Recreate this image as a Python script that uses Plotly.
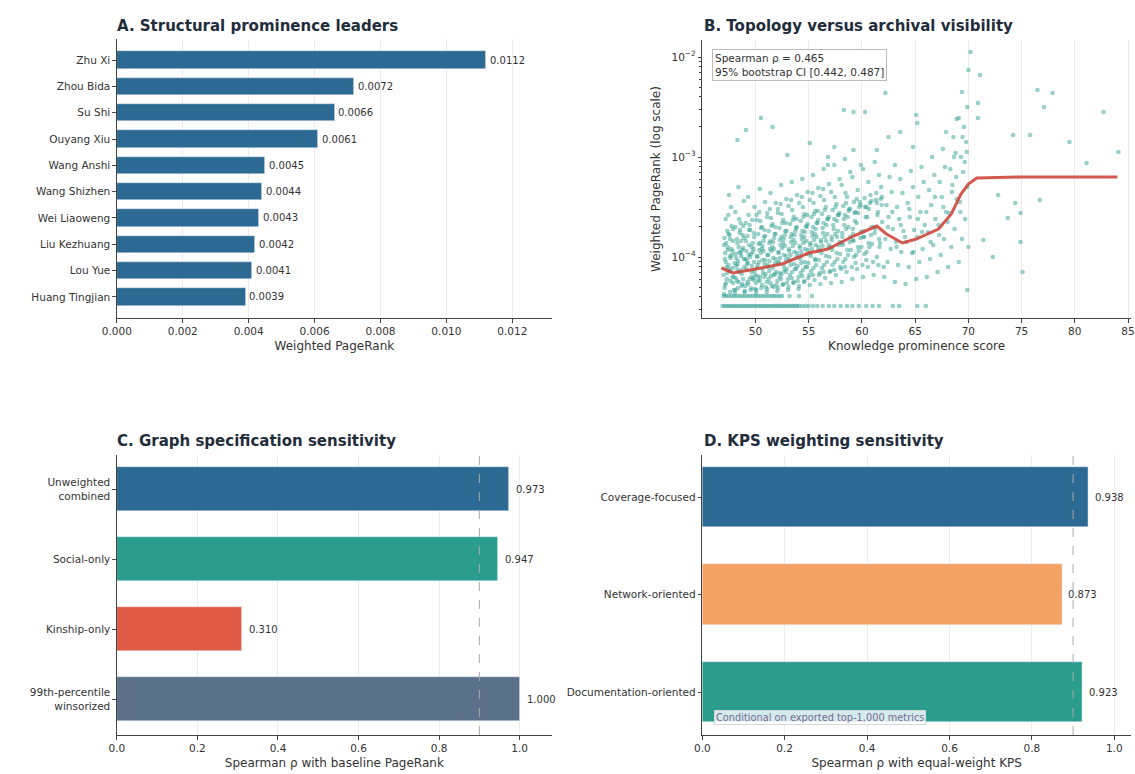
import plotly.graph_objects as go

W, H = 1135, 774

# ---------------- data ----------------
leaders = ["Zhu Xi", "Zhou Bida", "Su Shi", "Ouyang Xiu", "Wang Anshi",
           "Wang Shizhen", "Wei Liaoweng", "Liu Kezhuang", "Lou Yue", "Huang Tingjian"]
leader_pagerank = [0.0112, 0.0072, 0.0066, 0.0061, 0.0045, 0.0044, 0.0043, 0.0042, 0.0041, 0.0039]

graph_specs = ["Unweighted<br>combined", "Social-only", "Kinship-only", "99th-percentile<br>winsorized"]
graph_rho = [0.973, 0.947, 0.310, 1.000]

kps_specs = ["Coverage-focused", "Network-oriented", "Documentation-oriented"]
kps_rho = [0.938, 0.873, 0.923]

# Panel B: points (KPS, log10 weighted PageRank)
floor_low_log = -4.49
floor_low_x = [46.9, 47.1, 47.3, 47.5, 47.7, 47.9, 48.1, 48.3, 48.5, 48.7, 48.9, 49.1, 49.3, 49.5,
               49.7, 49.9, 50.1, 50.3, 50.5, 50.7, 50.9, 51.1, 51.3, 51.5, 51.7, 51.9, 52.1, 52.3,
               52.5, 52.7, 52.9, 53.1, 53.3, 53.5, 53.7, 53.9, 54.1, 54.4, 54.7, 55.0, 55.4, 55.8,
               56.3, 56.9, 57.4, 58.0, 58.6, 59.1, 59.7, 60.4, 61.0, 61.6, 62.9, 63.5, 65.2, 66.0]
floor_mid_log = -4.39
floor_mid_x = [47.0, 47.25, 47.5, 47.75, 48.0, 48.25, 48.5, 48.75, 49.0, 49.25, 49.5, 49.75, 50.0,
               50.25, 50.5, 50.75, 51.0, 51.25, 51.5, 51.75, 52.0, 52.25, 52.5, 53.2, 54.1, 55.3]

cloud = [
    (47.1, -4.31), (47.3, -4.22), (47.5, -4.12), (47.2, -4.05), (47.8, -3.98), (47.4, -3.90), (47.6, -3.82),
    (47.9, -3.72), (47.2, -3.62), (47.7, -3.50), (47.5, -3.38), (47.0, -4.18), (47.9, -4.26), (47.6, -4.35),
    (48.1, -4.33), (48.4, -4.25), (48.7, -4.17), (48.2, -4.09), (48.9, -4.02), (48.5, -3.95), (48.3, -3.86),
    (48.8, -3.78), (48.6, -3.66), (48.1, -3.55), (48.9, -3.44), (48.4, -3.30), (48.7, -4.29), (48.3, -4.13),
    (49.0, -4.34), (49.3, -4.27), (49.6, -4.20), (49.9, -4.14), (49.2, -4.07), (49.5, -4.00), (49.8, -3.92),
    (49.1, -3.84), (49.4, -3.73), (49.7, -3.63), (49.9, -3.50), (49.3, -3.40), (49.6, -4.31), (49.8, -4.23),
    (50.1, -4.33), (50.4, -4.24), (50.7, -4.16), (50.2, -4.08), (50.9, -4.03), (50.5, -3.96), (50.3, -3.87),
    (50.8, -3.80), (50.6, -3.70), (50.1, -3.58), (50.9, -3.45), (50.4, -3.32), (50.6, -4.28), (50.2, -4.19),
    (51.1, -4.32), (51.4, -4.26), (51.7, -4.18), (51.2, -4.10), (51.9, -4.02), (51.5, -3.94), (51.3, -3.86),
    (51.8, -3.77), (51.6, -3.67), (51.1, -3.56), (51.9, -3.46), (51.4, -3.36), (51.7, -4.30), (51.3, -4.14),
    (52.1, -4.31), (52.4, -4.22), (52.7, -4.13), (52.2, -4.06), (52.9, -3.99), (52.5, -3.91), (52.3, -3.83),
    (52.8, -3.74), (52.6, -3.63), (52.1, -3.52), (52.9, -3.42), (52.4, -3.28), (52.6, -4.27), (52.3, -4.16),
    (53.1, -4.30), (53.4, -4.21), (53.7, -4.12), (53.2, -4.04), (53.9, -3.96), (53.5, -3.89), (53.3, -3.80),
    (53.8, -3.71), (53.6, -3.60), (53.1, -3.49), (53.9, -3.38), (53.4, -3.25), (53.6, -4.25), (53.3, -4.08),
    (54.1, -4.29), (54.4, -4.19), (54.7, -4.10), (54.2, -4.02), (54.9, -3.93), (54.5, -3.86), (54.3, -3.78),
    (54.8, -3.69), (54.6, -3.57), (54.1, -3.46), (54.9, -3.35), (54.4, -3.22), (54.6, -4.24), (54.3, -4.06),
    (55.1, -4.28), (55.4, -4.18), (55.7, -4.08), (55.2, -3.99), (55.9, -3.90), (55.5, -3.83), (55.3, -3.75),
    (55.8, -3.66), (55.6, -3.54), (55.1, -3.43), (55.9, -3.31), (55.4, -3.18), (55.6, -4.03),
    (56.1, -4.27), (56.4, -4.15), (56.7, -4.05), (56.2, -3.96), (56.9, -3.88), (56.5, -3.80), (56.3, -3.71),
    (56.8, -3.62), (56.6, -3.50), (56.1, -3.39), (56.9, -3.27), (56.4, -3.12), (56.8, -3.00),
    (57.1, -4.26), (57.4, -4.13), (57.7, -4.02), (57.2, -3.93), (57.9, -3.85), (57.5, -3.77), (57.3, -3.68),
    (57.8, -3.58), (57.6, -3.47), (57.1, -3.35), (57.9, -3.22), (57.4, -3.08),
    (58.1, -4.25), (58.4, -4.10), (58.7, -3.98), (58.2, -3.88), (58.9, -3.80), (58.5, -3.72), (58.3, -3.62),
    (58.8, -3.52), (58.6, -3.40), (58.1, -3.28), (58.9, -3.15), (58.4, -3.02),
    (59.1, -4.22), (59.4, -4.06), (59.7, -3.94), (59.2, -3.84), (59.9, -3.75), (59.5, -3.66), (59.3, -3.56),
    (59.8, -3.45), (59.6, -3.33), (59.1, -3.20), (59.9, -3.08),
    (60.1, -4.20), (60.4, -4.03), (60.7, -3.90), (60.2, -3.80), (60.9, -3.70), (60.5, -3.60), (60.3, -3.50),
    (60.8, -3.38), (60.6, -3.25), (60.1, -3.12),
    (61.1, -4.18), (61.4, -4.00), (61.7, -3.86), (61.2, -3.76), (61.9, -3.65), (61.5, -3.55), (61.3, -3.43),
    (61.8, -3.30), (61.6, -3.18), (61.2, -3.05),
    (62.1, -4.20), (62.4, -4.05), (62.7, -3.92), (62.2, -3.82), (62.9, -3.72), (62.5, -3.60), (62.3, -3.48),
    (62.8, -3.35), (62.6, -3.20),
    (63.1, -4.25), (63.4, -4.08), (63.7, -3.95), (63.2, -3.85), (63.9, -3.74), (63.5, -3.62), (63.3, -3.50),
    (63.8, -3.36), (63.6, -3.22), (63.1, -3.08),
    (64.1, -4.27), (64.4, -4.10), (64.7, -3.96), (64.2, -3.85), (64.9, -3.73), (64.5, -3.60), (64.3, -3.46),
    (64.8, -3.30), (64.6, -3.14),
    (65.1, -4.22), (65.4, -4.05), (65.7, -3.92), (65.2, -3.80), (65.9, -3.68), (65.5, -3.55), (65.3, -3.40),
    (65.8, -3.25), (65.6, -3.10),
    (66.1, -4.20), (66.4, -4.02), (66.7, -3.88), (66.2, -3.75), (66.9, -3.62), (66.5, -3.48), (66.3, -3.33),
    (66.8, -3.18), (66.6, -3.00),
    (67.1, -4.15), (67.4, -3.98), (67.7, -3.82), (67.2, -3.68), (67.9, -3.55), (67.5, -3.40), (67.3, -3.25),
    (67.8, -3.10), (67.6, -2.92), (67.9, -2.75),
    (68.1, -4.10), (68.4, -3.90), (68.7, -3.72), (68.2, -3.56), (68.9, -3.42), (68.5, -3.28), (68.3, -3.12),
    (68.8, -2.96), (68.6, -2.80), (68.9, -2.62),
    (69.1, -4.05), (69.4, -3.82), (69.7, -3.62), (69.2, -3.45), (69.9, -3.30), (69.5, -3.15), (69.3, -3.00),
    (69.8, -2.85), (69.6, -2.70), (69.9, -2.50), (69.4, -2.35),
]

cloud_dense = [
    (47.05, -4.37), (47.15, -4.28), (47.35, -4.16), (47.45, -4.08), (47.65, -4.01), (47.85, -3.94), (47.25, -3.86),
    (47.55, -3.78), (47.75, -3.69), (47.95, -4.20), (47.15, -3.96), (47.45, -3.58), (47.65, -4.24), (47.35, -3.74),
    (47.85, -4.11), (47.05, -3.88),
    (48.05, -4.36), (48.15, -4.21), (48.35, -4.04), (48.45, -4.15), (48.65, -3.99), (48.85, -3.91), (48.25, -3.82),
    (48.55, -3.73), (48.75, -4.27), (48.95, -4.10), (48.15, -3.97), (48.45, -3.62), (48.65, -3.84), (48.35, -4.31),
    (48.85, -3.69), (48.05, -4.06),
    (49.05, -4.29), (49.15, -4.12), (49.35, -3.98), (49.45, -4.22), (49.65, -3.90), (49.85, -4.05), (49.25, -3.79),
    (49.55, -4.33), (49.75, -3.86), (49.95, -4.18), (49.15, -3.94), (49.45, -3.68), (49.65, -4.09), (49.35, -3.58),
    (49.85, -3.76), (49.05, -4.02),
    (50.05, -4.26), (50.15, -4.11), (50.35, -3.93), (50.45, -4.20), (50.65, -3.89), (50.85, -4.07), (50.25, -3.77),
    (50.55, -4.31), (50.75, -3.84), (50.95, -4.17), (50.15, -3.99), (50.45, -3.64), (50.65, -4.03), (50.35, -3.55),
    (50.85, -3.73), (50.05, -4.36),
    (51.05, -4.25), (51.15, -4.08), (51.35, -3.92), (51.45, -4.19), (51.65, -3.85), (51.85, -4.06), (51.25, -3.74),
    (51.55, -4.29), (51.75, -3.81), (51.95, -4.15), (51.15, -3.98), (51.45, -3.61), (51.65, -4.01), (51.35, -3.52),
    (51.85, -3.70), (51.05, -4.35),
    (52.05, -4.24), (52.15, -4.05), (52.35, -3.88), (52.45, -4.17), (52.65, -3.82), (52.85, -4.03), (52.25, -3.71),
    (52.55, -4.28), (52.75, -3.78), (52.95, -4.12), (52.15, -3.95), (52.45, -3.57), (52.65, -3.98), (52.35, -3.47),
    (52.85, -3.66), (52.05, -4.34),
    (53.05, -4.22), (53.15, -4.02), (53.35, -3.85), (53.45, -4.15), (53.65, -3.78), (53.85, -4.00), (53.25, -3.67),
    (53.55, -4.26), (53.75, -3.74), (53.95, -4.09), (53.15, -3.92), (53.45, -3.53), (53.65, -3.95), (53.35, -3.43),
    (53.85, -3.62), (53.05, -4.33),
    (54.05, -4.20), (54.15, -3.99), (54.35, -3.82), (54.45, -4.13), (54.65, -3.75), (54.85, -3.97), (54.25, -3.64),
    (54.55, -4.25), (54.75, -3.70), (54.95, -4.06), (54.15, -3.89), (54.45, -3.50), (54.65, -3.92), (54.35, -3.40),
    (54.85, -3.58), (54.05, -4.32),
    (55.05, -4.18), (55.15, -3.96), (55.35, -3.79), (55.45, -4.11), (55.65, -3.72), (55.85, -3.94), (55.25, -3.60),
    (55.55, -4.23), (55.75, -3.66), (55.95, -4.03), (55.15, -3.86), (55.45, -3.46), (55.65, -3.88), (55.35, -3.36),
    (55.85, -3.54),
    (56.05, -4.16), (56.15, -3.93), (56.35, -3.76), (56.45, -4.08), (56.65, -3.68), (56.85, -3.91), (56.25, -3.57),
    (56.55, -4.21), (56.75, -3.62), (56.95, -4.00), (56.15, -3.83), (56.45, -3.43), (56.65, -3.84), (56.35, -3.32),
    (57.05, -4.14), (57.15, -3.90), (57.35, -3.72), (57.45, -4.05), (57.65, -3.64), (57.85, -3.88), (57.25, -3.53),
    (57.55, -4.18), (57.75, -3.58), (57.95, -3.97), (57.15, -3.80), (57.45, -3.40), (57.65, -3.80),
    (58.05, -4.12), (58.15, -3.86), (58.35, -3.68), (58.45, -4.02), (58.65, -3.60), (58.85, -3.85), (58.25, -3.49),
    (58.55, -4.15), (58.75, -3.54), (58.95, -3.93), (58.15, -3.76), (58.45, -3.36),
    (59.05, -4.10), (59.15, -3.83), (59.35, -3.64), (59.45, -3.98), (59.65, -3.56), (59.85, -3.81), (59.25, -3.45),
    (59.55, -4.12), (59.75, -3.50), (59.95, -3.90), (59.15, -3.72),
    (60.05, -4.08), (60.15, -3.80), (60.35, -3.60), (60.45, -3.95), (60.65, -3.52), (60.85, -3.78), (60.25, -3.41),
    (60.55, -4.10), (60.75, -3.46), (60.95, -3.87),
    (61.05, -4.05), (61.25, -3.72), (61.45, -3.58), (61.65, -3.90), (61.85, -3.48), (61.35, -3.36), (61.55, -4.08),
    (61.75, -3.42),
    (62.05, -4.10), (62.45, -3.70), (62.85, -3.55), (63.25, -3.90), (63.65, -3.68), (64.05, -3.80), (64.45, -3.52),
    (64.85, -3.95), (65.25, -3.62), (65.65, -3.75), (66.05, -3.55), (66.45, -3.85), (66.85, -3.40), (67.25, -3.78),
    (67.65, -3.50), (68.05, -3.65), (68.45, -3.35), (68.85, -3.20), (69.25, -3.55), (69.65, -3.05), (69.85, -2.95),
    (69.45, -2.80), (68.65, -3.00),
]

cloud_core = [
    (47.12, -4.02), (47.38, -3.93), (47.62, -4.14), (47.88, -3.84), (47.22, -4.26), (47.48, -3.77), (47.72, -3.92),
    (47.98, -4.33), (47.28, -4.10), (47.58, -3.99), (47.82, -4.20), (47.08, -3.81),
    (48.18, -4.01), (48.42, -3.90), (48.66, -4.13), (48.92, -3.81), (48.26, -4.24), (48.52, -3.76), (48.76, -3.93),
    (48.96, -4.35), (48.32, -4.07), (48.60, -3.96), (48.84, -4.22), (48.10, -3.70),
    (49.16, -4.03), (49.40, -3.88), (49.62, -4.15), (49.88, -3.80), (49.24, -4.25), (49.50, -3.73), (49.74, -3.95),
    (49.96, -4.32), (49.30, -4.06), (49.58, -3.97), (49.82, -4.21), (49.08, -3.66),
    (50.18, -4.00), (50.42, -3.86), (50.66, -4.12), (50.92, -3.79), (50.26, -4.23), (50.52, -3.71), (50.76, -3.94),
    (50.96, -4.30), (50.32, -4.05), (50.60, -3.92), (50.84, -4.20), (50.10, -3.63),
    (51.16, -3.98), (51.40, -3.84), (51.62, -4.11), (51.88, -3.77), (51.24, -4.22), (51.50, -3.69), (51.74, -3.92),
    (51.96, -4.28), (51.30, -4.04), (51.58, -3.90), (51.82, -4.17), (51.08, -3.60),
    (52.18, -3.96), (52.42, -3.80), (52.66, -4.09), (52.92, -3.74), (52.26, -4.20), (52.52, -3.66), (52.76, -3.89),
    (52.96, -4.26), (52.30, -4.01), (52.60, -3.86), (52.84, -4.15), (52.10, -3.56),
    (53.16, -3.94), (53.40, -3.77), (53.62, -4.07), (53.88, -3.70), (53.24, -4.18), (53.50, -3.63), (53.74, -3.86),
    (53.96, -4.24), (53.30, -3.98), (53.58, -3.83), (53.82, -4.12),
    (54.16, -3.91), (54.40, -3.74), (54.62, -4.05), (54.88, -3.67), (54.24, -4.16), (54.50, -3.60), (54.74, -3.84),
    (54.96, -4.21), (54.30, -3.95), (54.58, -3.80), (54.82, -4.10),
    (55.16, -3.88), (55.40, -3.70), (55.62, -4.02), (55.88, -3.63), (55.24, -4.14), (55.50, -3.57), (55.74, -3.80),
    (55.96, -4.18), (55.30, -3.92), (55.58, -3.77),
    (56.16, -3.85), (56.40, -3.66), (56.62, -3.99), (56.88, -3.60), (56.24, -4.11), (56.50, -3.53), (56.74, -3.77),
    (56.96, -4.15), (56.30, -3.89),
    (57.16, -3.83), (57.40, -3.62), (57.62, -3.96), (57.88, -3.56), (57.24, -4.08), (57.50, -3.50), (57.74, -3.74),
    (57.96, -4.10),
    (58.16, -3.80), (58.40, -3.58), (58.62, -3.93), (58.88, -3.52), (58.24, -4.05), (58.50, -3.46), (58.74, -3.70),
    (59.16, -3.77), (59.40, -3.55), (59.62, -3.90), (59.88, -3.48), (59.24, -4.00), (59.50, -3.42),
    (60.16, -3.74), (60.40, -3.50), (60.62, -3.86), (60.88, -3.44), (60.24, -3.97),
    (61.16, -3.70), (61.40, -3.46), (61.62, -3.82), (61.88, -3.40),
]

cloud_sparse = [
    (62.2, -2.36), (58.3, -2.53), (59.2, -2.55), (60.3, -2.55), (49.1, -2.73), (51.6, -2.70), (50.5, -2.61),
    (55.1, -2.86), (57.4, -2.90), (62.5, -2.80), (63.6, -2.75), (48.3, -2.83), (53.0, -2.98), (59.2, -2.93),
    (61.4, -2.93), (56.8, -3.08), (65.1, -2.58), (65.2, -2.66), (64.8, -2.90), (69.1, -2.61), (70.9, -2.61),
    (70.9, -2.46), (70.2, -1.95), (71.1, -2.18), (70.0, -2.13), (76.5, -2.33), (77.9, -2.36), (77.1, -2.50),
    (82.7, -2.55), (74.2, -2.78), (75.8, -2.78), (79.5, -2.85), (84.1, -2.95), (81.1, -3.06), (72.8, -3.38),
    (74.4, -3.46), (76.7, -3.43), (73.7, -3.61), (74.9, -3.56), (71.4, -3.83), (72.3, -4.00), (74.9, -3.85),
    (75.1, -4.15), (70.0, -3.90), (69.9, -4.33),
]

trend_x = [46.8, 47.9, 50.0, 52.5, 55.0, 56.8, 59.2, 61.4, 62.3, 63.8, 65.1, 67.2, 68.4, 69.3, 70.0, 70.8, 75.0, 84.0]
trend_log = [-4.11, -4.16, -4.12, -4.07, -3.96, -3.92, -3.79, -3.69, -3.77, -3.86, -3.82, -3.72, -3.57, -3.37, -3.27, -3.21, -3.20, -3.20]

rho_text = "Spearman ρ = 0.465<br>95% bootstrap CI [0.442, 0.487]"
note_text = "Conditional on exported top-1,000 metrics"

# ---------------- styling ----------------
FONT = "DejaVu Sans"
BLUE = "#2c6a93"
TEAL = "#2a9d8f"
RED = "#e05a45"
SLATE = "#5a7189"
ORANGE = "#f4a261"
TITLE_C = "#1f2d3d"
TXT = "#333333"
TICK_FS = 10.5
LAB_FS = 12
VAL_FS = 10


def px_x(p):
    return p / W


def px_y(p):
    return 1 - p / H


fig = go.Figure()

# Panel A
fig.add_trace(go.Bar(x=leader_pagerank, y=leaders, orientation="h", marker_color=BLUE,
                     width=0.66, xaxis="x", yaxis="y", showlegend=False))
for name, v in zip(leaders, leader_pagerank):
    fig.add_annotation(x=v, y=name, xref="x", yref="y", text=f"{v:.4f}", showarrow=False,
                       xanchor="left", xshift=2, font=dict(size=VAL_FS, color=TXT, family=FONT))

# Panel B
all_pts = cloud + cloud_dense + cloud_core + cloud_sparse
sx = [p[0] for p in all_pts] + floor_low_x + floor_mid_x
sy = ([10 ** p[1] for p in all_pts] + [10 ** floor_low_log] * len(floor_low_x)
      + [10 ** floor_mid_log] * len(floor_mid_x))
fig.add_trace(go.Scatter(x=sx, y=sy, mode="markers", xaxis="x2", yaxis="y2", showlegend=False,
                         marker=dict(size=4.6, color=TEAL, opacity=0.48, line=dict(width=0))))
fig.add_trace(go.Scatter(x=trend_x, y=[10 ** v for v in trend_log], mode="lines", xaxis="x2", yaxis="y2",
                         showlegend=False, line=dict(color="#d0483d", width=3), opacity=0.9))
fig.add_annotation(x=px_x(709), y=px_y(49), xref="paper", yref="paper", text=rho_text, showarrow=False,
                   xanchor="left", yanchor="top", align="left", bgcolor="white", bordercolor="#bbbbbb",
                   borderwidth=1, borderpad=2, font=dict(size=10.5, color=TXT, family=FONT))

# Panel C
fig.add_trace(go.Bar(x=graph_rho, y=graph_specs, orientation="h", marker_color=[BLUE, TEAL, RED, SLATE],
                     width=0.64, xaxis="x3", yaxis="y3", showlegend=False))
for name, v in zip(graph_specs, graph_rho):
    fig.add_annotation(x=v, y=name, xref="x3", yref="y3", text=f"{v:.3f}", showarrow=False,
                       xanchor="left", xshift=5, font=dict(size=VAL_FS, color=TXT, family=FONT))

# Panel D
fig.add_trace(go.Bar(x=kps_rho, y=kps_specs, orientation="h", marker_color=[BLUE, ORANGE, TEAL],
                     width=0.62, xaxis="x4", yaxis="y4", showlegend=False))
for name, v in zip(kps_specs, kps_rho):
    fig.add_annotation(x=v, y=name, xref="x4", yref="y4", text=f"{v:.3f}", showarrow=False,
                       xanchor="left", xshift=4, font=dict(size=VAL_FS, color=TXT, family=FONT))
fig.add_annotation(x=px_x(711), y=px_y(717), xref="paper", yref="paper", text=note_text, showarrow=False,
                   xanchor="left", yanchor="middle", bgcolor="rgba(255,255,255,0.8)", bordercolor="#d8d8d8",
                   borderwidth=1, borderpad=1, font=dict(size=9.8, color="#7a6a9a", family=FONT))

# reference lines at 0.9
for xr, yr in (("x3", "y3"), ("x4", "y4")):
    fig.add_shape(type="line", xref=xr, yref=f"{yr} domain", x0=0.9, x1=0.9, y0=0, y1=1,
                  line=dict(color="#aaaaaa", width=1, dash="dash"), layer="above")

# titles
titles = [("A. Structural prominence leaders", 103, 26), ("B. Topology versus archival visibility", 700, 26),
          ("C. Graph specification sensitivity", 103, 441), ("D. KPS weighting sensitivity", 700, 441)]
for t, xp, yp in titles:
    fig.add_annotation(x=px_x(xp), y=px_y(yp), xref="paper", yref="paper", text=f"<b>{t}</b>", showarrow=False,
                       xanchor="left", yanchor="middle", xshift=-1, font=dict(size=15, color=TITLE_C, family=FONT))

axis_common = dict(showline=True, linecolor="#444444", linewidth=1, ticks="outside", ticklen=3.5,
                   tickcolor="#444444", tickfont=dict(size=TICK_FS, color=TXT, family=FONT), zeroline=False)
xgrid = dict(showgrid=True, gridcolor="#ececec", gridwidth=1)

top_dom = [px_y(318), px_y(39)]
bot_dom = [px_y(735), px_y(455)]

minor_vals = [m * 10 ** e for e in (-5, -4, -3) for m in range(2, 10)]

fig.update_layout(
    width=W, height=H, margin=dict(l=0, r=0, t=0, b=0), plot_bgcolor="white", paper_bgcolor="white",
    font=dict(family=FONT, color=TXT), bargap=0,
    xaxis=dict(domain=[px_x(103.6), px_x(546)], range=[0, 0.0132],
               tickvals=[0, 0.002, 0.004, 0.006, 0.008, 0.010, 0.012], tickformat=".3f",
               title=dict(text="Weighted PageRank", font=dict(size=LAB_FS), standoff=5),
               anchor="y", **axis_common, **xgrid),
    yaxis=dict(domain=top_dom, range=[9.8, -0.8], type="category", categoryarray=leaders, anchor="x",
               showgrid=False, **axis_common),
    xaxis2=dict(domain=[px_x(699), 1.0], range=[45.0, 85.28], tickvals=[50, 55, 60, 65, 70, 75, 80, 85],
                ticklabeloverflow="allow",
                title=dict(text="Knowledge prominence score", font=dict(size=LAB_FS), standoff=5),
                anchor="y2", **axis_common, **xgrid),
    yaxis2=dict(domain=[px_y(318), px_y(40)], type="log", range=[-4.61, -1.83], tickvals=[1e-4, 1e-3, 1e-2],
                ticktext=["10<sup>−4</sup>", "10<sup>−3</sup>", "10<sup>−2</sup>"],
                minor=dict(tickmode="array", tickvals=minor_vals, ticks="outside", ticklen=2, tickcolor="#444444"),
                title=dict(text="Weighted PageRank (log scale)", font=dict(size=LAB_FS), standoff=8),
                anchor="x2", showgrid=False, **axis_common),
    xaxis3=dict(domain=[px_x(103.6), px_x(546)], range=[0, 1.08], tickvals=[0, 0.2, 0.4, 0.6, 0.8, 1.0],
                tickformat=".1f", title=dict(text="Spearman ρ with baseline PageRank", font=dict(size=LAB_FS), standoff=5),
                anchor="y3", **axis_common, **xgrid),
    yaxis3=dict(domain=bot_dom, range=[3.514, -0.486], type="category", categoryarray=graph_specs, anchor="x3",
                showgrid=False, **axis_common),
    xaxis4=dict(domain=[px_x(699), 1.0], range=[0, 1.0406], tickvals=[0, 0.2, 0.4, 0.6, 0.8, 1.0],
                tickformat=".1f", title=dict(text="Spearman ρ with equal-weight KPS", font=dict(size=LAB_FS), standoff=5),
                anchor="y4", **axis_common, **xgrid),
    yaxis4=dict(domain=bot_dom, range=[2.441, -0.431], type="category", categoryarray=kps_specs, anchor="x4",
                showgrid=False, **axis_common),
)

fig.write_html("out.html", config={"displayModeBar": False},
               post_script="document.body.style.margin='0px';document.body.style.overflow='hidden';")
